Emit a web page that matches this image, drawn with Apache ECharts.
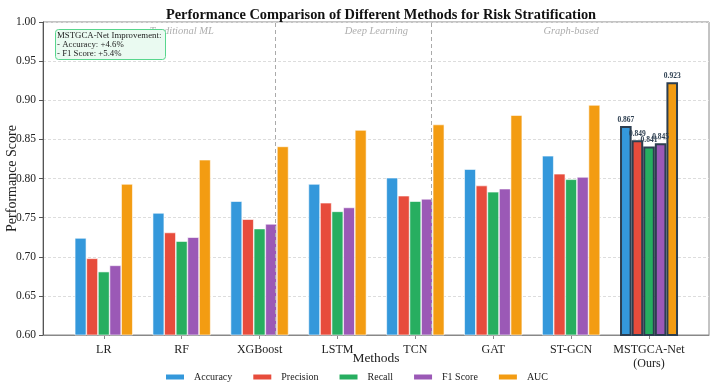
<!DOCTYPE html>
<html><head><meta charset="utf-8">
<script src="https://cdn.jsdelivr.net/npm/echarts@6/dist/echarts.min.js"></script>
<style>html,body{margin:0;padding:0;background:#fff}#c{width:712px;height:391px}</style>
</head><body><div id="c"></div>
<script>
const methods = ['LR','RF','XGBoost','LSTM','TCN','GAT','ST-GCN','MSTGCA-Net\n(Ours)'];
const accuracy  = [0.724,0.756,0.771,0.793,0.801,0.812,0.829,0.867];
const precision = [0.698,0.731,0.748,0.769,0.778,0.791,0.806,0.849];
const recall    = [0.681,0.720,0.736,0.758,0.771,0.783,0.799,0.841];
const f1score   = [0.689,0.725,0.742,0.763,0.774,0.787,0.802,0.845];
const auc       = [0.793,0.824,0.841,0.862,0.869,0.881,0.894,0.923];
const groups = ['Traditional ML','Deep Learning','Graph-based'];
const groupCenters = [1,3.5,6];
const separators = [2.5,4.5];

const seriesDefs = [
  ['Accuracy',accuracy,'#3498db'],
  ['Precision',precision,'#e74c3c'],
  ['Recall',recall,'#27ae60'],
  ['F1 Score',f1score,'#9b59b6'],
  ['AUC',auc,'#f39c12']
];
const best = methods.length-1;
const serif = '"Liberation Serif","DejaVu Serif",serif';

const series = seriesDefs.map(([name,vals,color],si)=>({
  name, type:'bar', barWidth:11.6, barGap:'0%',
  itemStyle:{color, borderColor:'#fff', borderWidth:0.6},
  data: vals.map((v,i)=> i===best ? {
      value:[i,v],
      itemStyle:{borderColor:'#2c3e50', borderWidth:2},
      label:{show:true, position:'top', distance:2, formatter:v.toFixed(3),
        fontFamily:serif, fontSize:7.5, fontWeight:'bold', color:'#2c3e50'}
    } : {value:[i,v]}),
  markLine: si===0 ? {
    silent:true, symbol:'none', label:{show:false},
    lineStyle:{color:'#aaa', type:[4,3], width:1},
    data: separators.map(x=>({xAxis:x}))
  } : undefined
}));
series.push({
  type:'scatter', symbolSize:0, silent:true,
  data: groups.map((g,i)=>({value:[groupCenters[i],0.988], name:g})),
  label:{show:true, position:'inside', formatter:p=>p.name,
    fontFamily:serif, fontStyle:'italic', fontSize:10.5, color:'#999'}
});

const chart = echarts.init(document.getElementById('c'));
chart.setOption({
  animation:false,
  title:[{
    text:'Performance Comparison of Different Methods for Risk Stratification',
    left:376, top:3, textAlign:'center',
    textStyle:{fontFamily:serif, fontSize:14.4, fontWeight:'bold', color:'#111'}
  },{
    text:'MSTGCA-Net Improvement:\n- Accuracy: +4.6%\n- F1 Score: +5.4%',
    left:55, top:29, padding:[2,4,1,2],
    backgroundColor:'#eafaf1', borderColor:'#58d68d', borderWidth:1, borderRadius:3,
    textStyle:{fontFamily:serif, fontSize:8.8, fontWeight:'normal', color:'#222', lineHeight:9.2}
  }],
  legend:{
    bottom:4, left:'center', itemWidth:20, itemHeight:7, itemGap:19,
    icon:'rect',
    data: seriesDefs.map(d=>d[0]),
    textStyle:{fontFamily:serif, fontSize:10, color:'#222', padding:[0,0,0,4]}
  },
  grid:{left:43, right:3, top:22, bottom:56, containLabel:false, outerBoundsMode:'none',
    show:true, borderColor:'#888', borderWidth:1},
  xAxis:{
    type:'value', min:-0.78, max:7.77,
    name:'Methods', nameLocation:'middle', nameGap:16, nameMoveOverlap:false,
    nameTextStyle:{fontFamily:serif, fontSize:13.5, color:'#222'},
    axisLine:{show:true, onZero:false, lineStyle:{color:'#888'}},
    axisTick:{show:true, customValues:methods.map((m,i)=>i), length:4, lineStyle:{color:'#888'}},
    axisLabel:{customValues:methods.map((m,i)=>i), formatter:v=>methods[Math.round(v)],
      fontFamily:serif, fontSize:12, color:'#222', margin:8, lineHeight:14},
    splitLine:{show:false}
  },
  yAxis:{
    type:'value', min:0.6, max:1.0, interval:0.05,
    name:'Performance Score', nameLocation:'middle', nameGap:24, nameMoveOverlap:false,
    nameTextStyle:{fontFamily:serif, fontSize:14, color:'#222'},
    axisLine:{show:true, onZero:false, lineStyle:{color:'#555'}},
    axisTick:{show:true, length:4, lineStyle:{color:'#555'}},
    axisLabel:{formatter:v=>v.toFixed(2), fontFamily:serif, fontSize:11.5, color:'#222', margin:7},
    splitLine:{show:true, lineStyle:{color:'#ddd', type:[3,2], width:1}}
  },
  series
});
</script></body></html>
